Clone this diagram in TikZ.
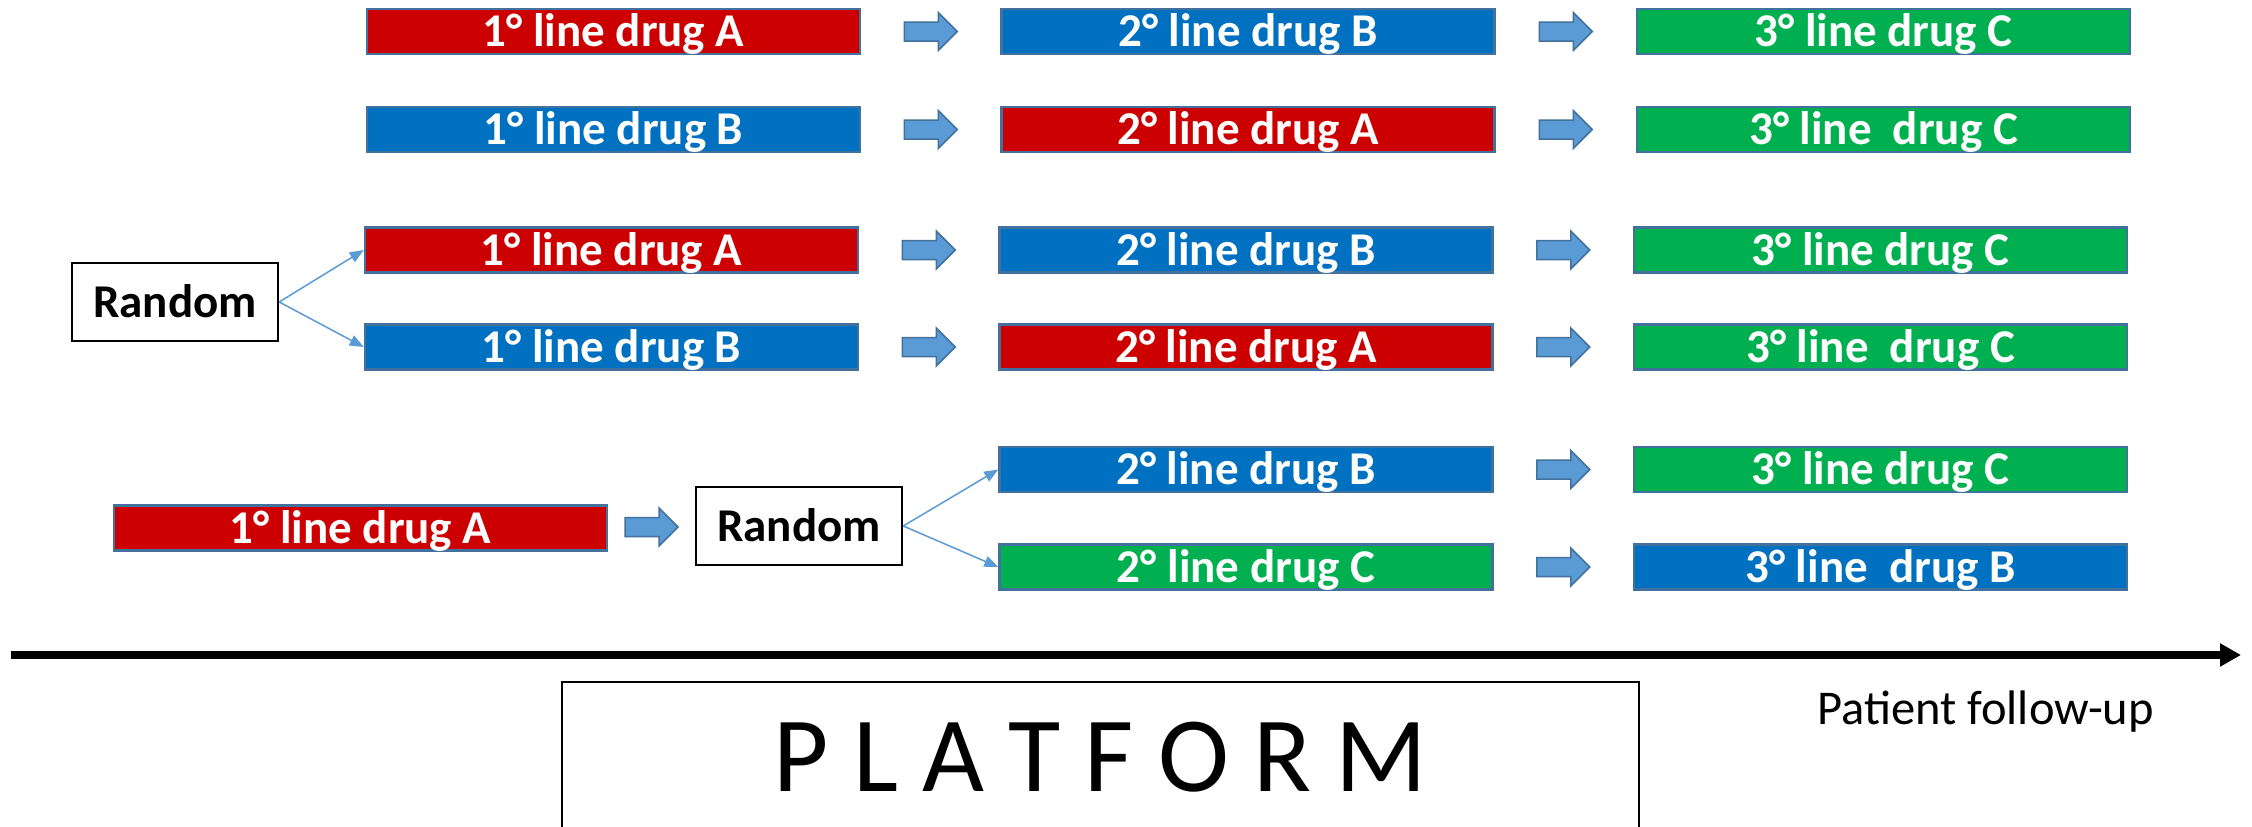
\documentclass[tikz,border=0pt]{standalone}
\usepackage{fontspec}
\setmainfont{Carlito}
\usetikzlibrary{calc,arrows.meta}
\definecolor{drugred}{HTML}{CC0000}
\definecolor{drugblue}{HTML}{0070C0}
\definecolor{druggreen}{HTML}{00B050}
\definecolor{boxline}{HTML}{41719C}
\definecolor{arrowfill}{HTML}{5B9BD5}
\newcommand\blockarrow[2]{%
  \draw[barrow] let \p1=($(#1.east)!0.5!(#2.west)$) in
    (\x1-26.5pt,\y1+9.5pt) -- (\x1+7.5pt,\y1+9.5pt) -- (\x1+7.5pt,\y1+19pt) --
    (\x1+26.5pt,\y1) -- (\x1+7.5pt,\y1-19pt) -- (\x1+7.5pt,\y1-9.5pt) --
    (\x1-26.5pt,\y1-9.5pt) -- cycle;}
\begin{document}
\begin{tikzpicture}[x=1pt,y=-1pt,
  drug/.style={rectangle, draw=boxline, line width=2.5pt, minimum width=493pt,
    minimum height=45pt, inner sep=0pt, text=white,
    font=\fontsize{47}{56}\selectfont\bfseries, text height=30pt, text depth=0pt},
  dA/.style={drug, fill=drugred},
  dB/.style={drug, fill=drugblue},
  dC/.style={drug, fill=druggreen},
  randbox/.style={rectangle, draw=black, line width=2.5pt, fill=white,
    minimum width=206pt, minimum height=78pt, inner sep=0pt,
    font=\fontsize{47}{56}\selectfont\bfseries, text height=30pt, text depth=0pt},
  thinarr/.style={draw=arrowfill, line width=1.5pt, -{Triangle[length=14pt,width=11pt]}},
  barrow/.style={fill=arrowfill, draw=boxline, line width=1.5pt, line join=miter},
]
\clip (0,0) rectangle (2252,827);
\fill[white] (0,0) rectangle (2252,827);

% row 1
\node[dA] (r1a) at (613.5,31.5) {1° line drug A};
\node[dB] (r1b) at (1248,31.5) {2° line drug B};
\node[dC] (r1c) at (1883.5,31.5) {3° line drug C};
% row 2
\node[dB] (r2a) at (613.5,129.5) {1° line drug B};
\node[dA] (r2b) at (1248,129.5) {2° line drug A};
\node[dC] (r2c) at (1883.5,129.5) {3° line~~drug C};
% row 3
\node[dA] (r3a) at (611.5,250) {1° line drug A};
\node[dB] (r3b) at (1246,250) {2° line drug B};
\node[dC] (r3c) at (1880.5,250) {3° line drug C};
% row 4
\node[dB] (r4a) at (611.5,347) {1° line drug B};
\node[dA] (r4b) at (1246,347) {2° line drug A};
\node[dC] (r4c) at (1880.5,347) {3° line~~drug C};
% random 1
\node[randbox] (rand1) at (175,302) {Random};
% row 5 / 6
\node[dA] (r5a) at (360.5,528) {1° line drug A};
\node[randbox] (rand2) at (799,526) {Random};
\node[dB] (r5b) at (1246,469.5) {2° line drug B};
\node[dC] (r5c) at (1880.5,469.5) {3° line drug C};
\node[dC] (r6b) at (1246,567) {2° line drug C};
\node[dB] (r6c) at (1880.5,567) {3° line~~drug B};

% block arrows
\blockarrow{r1a}{r1b}\blockarrow{r1b}{r1c}
\blockarrow{r2a}{r2b}\blockarrow{r2b}{r2c}
\blockarrow{r3a}{r3b}\blockarrow{r3b}{r3c}
\blockarrow{r4a}{r4b}\blockarrow{r4b}{r4c}
\blockarrow{r5a}{rand2}
\blockarrow{r5b}{r5c}\blockarrow{r6b}{r6c}

% random connectors
\draw[thinarr] (rand1.east) -- (r3a.west);
\draw[thinarr] (rand1.east) -- (r4a.west);
\draw[thinarr] (rand2.east) -- (r5b.west);
\draw[thinarr] (rand2.east) -- (r6b.west);

% time axis
\coordinate (axs) at (11,655);
\coordinate (axe) at (2241,655);
\draw[line width=8pt, -{Triangle[length=21pt,width=22pt]}] (axs) -- (axe);

% platform
\node[draw=black, line width=2pt, minimum width=1077pt, minimum height=150pt,
  inner sep=0pt, font=\fontsize{107}{120}\selectfont, text height=69pt, text depth=0pt]
  (platform) at (1100.5,757) {P L A T F O R M};
\node[anchor=base west, inner sep=0pt, font=\fontsize{48.5}{58}\selectfont]
  (pfu) at (1817,724) {Patient follow-up};
\end{tikzpicture}
\end{document}
